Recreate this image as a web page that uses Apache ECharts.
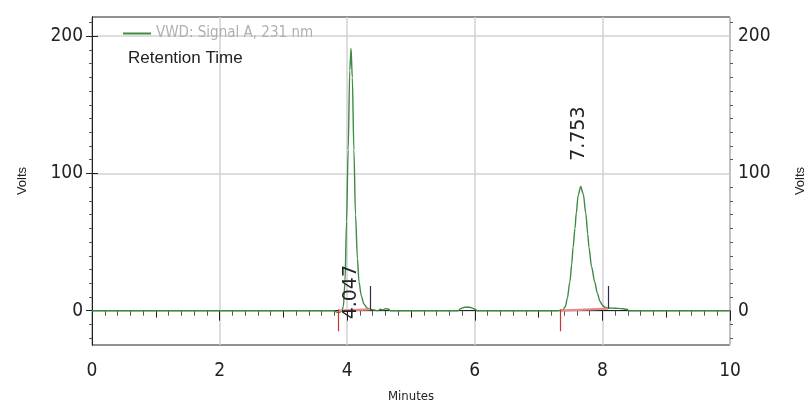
<!DOCTYPE html>
<html>
<head>
<meta charset="utf-8">
<script src="https://cdn.jsdelivr.net/npm/echarts@6/dist/echarts.min.js"></script>
<style>
  html, body { margin: 0; padding: 0; background: #fff; }
  #chart { width: 811px; height: 405px; }
</style>
</head>
<body>
<div id="chart"></div>
<script>
// retention time (min) and detector signal
const retTime = [0, 3.80, 3.83, 3.87, 3.91, 3.94, 3.965, 3.99, 4.015, 4.04, 4.06, 4.08, 4.105, 4.13, 4.16, 4.185, 4.22, 4.26, 4.31, 4.36, 4.42, 4.48, 4.52, 4.56, 4.60, 4.64, 4.68, 5.74, 5.78, 5.84, 5.92, 5.98, 6.04, 7.30, 7.38, 7.42, 7.45, 7.49, 7.52, 7.54, 7.57, 7.59, 7.62, 7.66, 7.70, 7.74, 7.77, 7.79, 7.83, 7.88, 7.92, 7.96, 8.00, 8.04, 8.10, 8.20, 8.30, 8.38, 8.42, 10];
const signal = [0, 0, -1, -1.5, -0.5, 3, 21, 65, 117, 175, 191, 170, 117, 70, 38, 21, 11, 5, 2, 1, 0.5, 0, 1, 0.5, 1.5, 1.2, 0, 0, 1.5, 2.5, 2.5, 1.5, 0, 0, 0.5, 3, 9, 21, 34, 46, 60, 71, 84, 90.5, 85, 71, 56, 46, 32, 21, 13, 7, 4, 2.5, 2, 1.8, 1.5, 1, 0, 0];

// integration events
const peakRT = ['4.047', '7.753'];
const peakStart = [3.86, 7.34];
const peakEnd = [4.36, 8.09];
const peakEndLevel = [1, 1.5];

const xTicks = [0, 2, 4, 6, 8, 10];
const xMidTicks = [1, 3, 5, 7, 9];
const yTicks = [0, 100, 200];
const yMinorTicks = [];
for (let v = -20; v <= 210; v += 10) if (v % 100 !== 0) yMinorTicks.push(v);

const NARROW = '"DejaVu Sans Condensed", "Liberation Sans Narrow", sans-serif';
const INK = '#222';

const chart = echarts.init(document.getElementById('chart'));

const yBase = {
  type: 'value', min: -25, max: 214,
  axisLine: { show: true, lineStyle: { color: INK, width: 1 } },
  splitLine: { show: false }
};

const option = {
  animation: false,
  grid: {
    left: 92, right: 81, top: 17, bottom: 60,
    outerBoundsMode: 'none', containLabel: false,
    show: true, borderColor: INK, borderWidth: 1
  },
  title: {
    text: 'Retention Time', left: 123, top: 45,
    textStyle: { fontFamily: 'Liberation Sans, Arial, sans-serif', fontSize: 17, fontWeight: 'normal', color: INK }
  },
  legend: {
    left: 118, top: 21, itemWidth: 28, itemHeight: 2, itemGap: 6,
    data: [{ name: 'VWD: Signal A, 231 nm', icon: 'rect' }],
    textStyle: { fontFamily: NARROW, fontSize: 15, color: '#b0b0b0' }
  },
  xAxis: [
    {
      type: 'value', min: 0, max: 10, interval: 2, position: 'bottom',
      name: 'Minutes', nameLocation: 'middle', nameGap: 45,
      nameTextStyle: { fontFamily: NARROW, fontSize: 13, color: INK },
      axisLine: { show: true, lineStyle: { color: INK, width: 1 } },
      axisTick: { show: true, length: 10, lineStyle: { color: INK } },
      minorTick: { show: true, splitNumber: 10, length: 5, lineStyle: { color: '#555' } },
      splitLine: { show: true, lineStyle: { color: '#d2d2d2', width: 1.5 } },
      axisLabel: { fontFamily: NARROW, fontSize: 19, color: INK, margin: 17, customValues: xTicks }
    },
    {
      type: 'value', min: 0, max: 10, position: 'bottom',
      axisLine: { show: false }, splitLine: { show: false }, axisLabel: { show: false },
      axisTick: { show: true, length: 7, customValues: xMidTicks, lineStyle: { color: INK } }
    }
  ],
  yAxis: [
    Object.assign({}, yBase, {
      position: 'left',
      name: 'Volts', nameLocation: 'middle', nameGap: 63,
      nameTextStyle: { fontFamily: 'Liberation Sans, Arial, sans-serif', fontSize: 13, color: INK },
      axisTick: { show: true, length: 6, customValues: yTicks, lineStyle: { color: INK } },
      axisLabel: { customValues: yTicks, fontFamily: NARROW, fontSize: 19, color: INK, margin: 9 },
      splitLine: { show: true, lineStyle: { color: '#d2d2d2', width: 1.5 } }
    }),
    Object.assign({}, yBase, {
      position: 'right',
      name: 'Volts', nameLocation: 'middle', nameGap: 64,
      nameTextStyle: { fontFamily: 'Liberation Sans, Arial, sans-serif', fontSize: 13, color: INK },
      axisTick: { show: true, length: 6, customValues: yTicks, lineStyle: { color: INK } },
      axisLabel: { customValues: yTicks, fontFamily: NARROW, fontSize: 19, color: INK, margin: 8 }
    }),
    Object.assign({}, yBase, {
      position: 'left', axisLine: { show: false }, axisLabel: { show: false },
      axisTick: { show: true, length: 3, customValues: yMinorTicks, lineStyle: { color: '#555' } }
    }),
    Object.assign({}, yBase, {
      position: 'right', axisLine: { show: false }, axisLabel: { show: false },
      axisTick: { show: true, length: 3, customValues: yMinorTicks, lineStyle: { color: '#555' } }
    })
  ],
  series: [
    {
      name: 'VWD: Signal A, 231 nm',
      type: 'line',
      data: retTime.map((t, i) => [t, signal[i]]),
      showSymbol: false, symbol: 'none',
      smooth: 0.3, smoothMonotone: 'x',
      itemStyle: { color: '#3f8a42' },
      lineStyle: { color: '#3f8a42', width: 1.4 },
      z: 3,
      markLine: {
        silent: true, symbol: 'none', label: { show: false },
        animation: false,
        data: [].concat(
          peakStart.map((s, i) => [
            { coord: [s, 0], lineStyle: { color: '#e88a8a', width: 2.2, type: 'solid' } },
            { coord: [peakEnd[i], peakEndLevel[i]] }
          ]),
          peakStart.map(s => [
            { coord: [s, 1], lineStyle: { color: '#cc3333', width: 1.2, type: 'solid' } },
            { coord: [s, -15] }
          ]),
          peakEnd.map((e, i) => [
            { coord: [e, peakEndLevel[i]], lineStyle: { color: '#2e2e4e', width: 1.2, type: 'solid' } },
            { coord: [e, 18] }
          ])
        )
      },
      markPoint: {
        silent: true, symbolSize: 0,
        label: {
          show: true, position: 'inside', rotate: 90, formatter: '{b}',
          fontFamily: '"DejaVu Sans", Verdana, sans-serif', fontSize: 19, color: INK
        },
        data: [
          { name: peakRT[0], coord: [4.06, 13.5] },
          { name: peakRT[1], coord: [7.63, 129] }
        ]
      }
    }
  ]
};

chart.setOption(option);
</script>
</body>
</html>
